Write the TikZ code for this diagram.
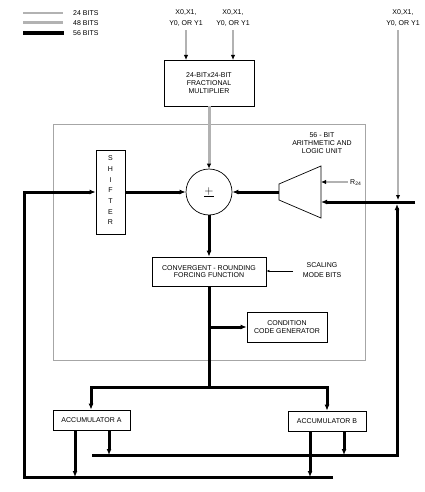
\documentclass[tikz,border=0pt]{standalone}
\usepackage{fontspec}
\setmainfont{Liberation Sans}
\usetikzlibrary{arrows.meta,positioning}
\begin{document}
\begin{tikzpicture}[x=1pt,y=-1pt,
  every node/.style={font=\fontsize{7}{7.6}\selectfont, inner sep=0pt},
  lbl/.style={align=center},
  box/.style={draw, line width=0.7pt, align=center},
  w56/.style={line width=3pt, black},
  w48/.style={line width=3pt, black!30},
  w24/.style={line width=1.3pt, black!30},
  thin/.style={line width=0.7pt, black},
  tip/.style={-{Latex[length=6pt,width=5pt,black]}},
  stip/.style={-{Latex[length=5pt,width=4.5pt,black]}}]
\useasboundingbox (0,0) rectangle (425,492);
% legend
\coordinate (l1a) at (23,13); \coordinate (l1b) at (63,13);
\coordinate (l2a) at (23,23); \coordinate (l2b) at (63,23);
\coordinate (l3a) at (23,33); \coordinate (l3b) at (64,33);
\draw[w24] (l1a) -- (l1b);
\draw[w48] (l2a) -- (l2b);
\draw[w56,line width=3.5pt] (l3a) -- (l3b);
\node[anchor=west] (t24) at (73,13) {24 BITS};
\node[anchor=west] (t48) at (73,23) {48 BITS};
\node[anchor=west] (t56) at (73,33) {56 BITS};
% inputs
\node[lbl] (in1) at (186,18) {X0,X1,\\[3pt]Y0, OR Y1};
\node[lbl] (in2) at (233,18) {X0,X1,\\[3pt]Y0, OR Y1};
\node[lbl] (in3) at (403,18) {X0,X1,\\[3pt]Y0, OR Y1};
% multiplier
\node[box, minimum width=90, minimum height=46] (mult) at (209,83) {24-BITx24-BIT\\FRACTIONAL\\MULTIPLIER};
\draw[w24,stip] (in1.south -| 186,0) ++(0,4) -- (186,60);
\draw[w24,stip] (in2.south -| 233,0) ++(0,4) -- (233,60);
% ALU gray box
\node[draw=black!35, line width=0.8pt, minimum width=312, minimum height=236] (alubox) at (209,242) {};
% shifter
\node[box, minimum width=29, minimum height=84] (shift) at (110.5,192) {};
\foreach \c [count=\i] in {S,H,I,F,T,E,R}
  \node (sh\i) at (110.5,147.5+\i*10.7) {\c};
% sum circle
\node[draw, circle, line width=0.7pt, minimum size=46] (sum) at (209,192) {\fontsize{13}{13}\selectfont$\underline{+}$};
\draw[w48,stip] (mult.south) -- (sum.north);
\draw[w56,tip] (shift.east) -- (sum.west);
% ALU trapezoid
\coordinate (tl1) at (279,184); \coordinate (tl2) at (279,200);
\coordinate (tr1) at (321,166); \coordinate (tr2) at (321,218);
\draw[line width=0.7pt] (tl1) -- (tr1) -- (tr2) -- (tl2) -- cycle;
\coordinate (trapL) at (279,192);
\draw[w56,tip] (trapL) -- (sum.east);
\node[lbl] (alut) at (322,143) {56 - BIT\\ARITHMETIC AND\\LOGIC UNIT};
\node[anchor=west] (r24) at (350,183) {R\textsubscript{24}};
\coordinate (r24in) at (321,182);
\draw[w24,stip] (r24.west) ++(-2,-1) -- (r24in);
% right input
\coordinate (rin) at (415,202);
\coordinate (rinT) at (321,202);
\draw[w56,tip] (rin) -- (rinT);
\draw[w24,stip] (in3.south -| 398,0) ++(0,4) -- (398,200);
% convergent rounding
\node[box, minimum width=114, minimum height=29] (conv) at (209,271.5) {CONVERGENT - ROUNDING\\FORCING FUNCTION};
\draw[w56,tip] (sum.south) -- (conv.north);
\node[lbl] (scal) at (322,270) {SCALING\\[2pt]MODE BITS};
\coordinate (scalE) at (293,271);
\draw[thin,-{Latex[length=3pt,width=2.5pt]}] (scalE) -- (conv.east |- scalE);
% condition code generator
\node[box, minimum width=80, minimum height=30] (ccg) at (287,327) {CONDITION\\CODE GENERATOR};
\coordinate (j1) at (209,327);
\coordinate (j2) at (209,387);
\draw[w56] (conv.south) -- (j2);
\draw[w56,tip] (j1) -- (ccg.west);
% accumulators
\node[box, minimum width=77, minimum height=20] (accA) at (91.5,420) {ACCUMULATOR A};
\node[box, minimum width=78, minimum height=20] (accB) at (327,421) {ACCUMULATOR B};
\coordinate (jA) at (91,387); \coordinate (jB) at (327,387);
\draw[w56,tip] (j2) -- (jA) -- (accA.north -| jA);
\draw[w56,tip] (j2) -- (jB) -- (accB.north -| jB);
% bus at y=455
\coordinate (b1L) at (93,455); \coordinate (b1R) at (397,455);
\coordinate (b1T) at (397,204);
\draw[w56,tip,line cap=rect] (b1L) -- (b1R) -- (b1T);
% bus at y=477
\coordinate (b2R) at (333,477); \coordinate (b2L) at (24,477);
\coordinate (b2T) at (24,192);
\draw[w56,tip] (b2R) -- (b2L) -- (b2T) -- (shift.west);
% accumulator outputs
\draw[w56,tip] (accA.south -| 75,0) -- (75,477);
\draw[w56,tip] (accA.south -| 109,0) -- (109,455);
\draw[w56,tip] (accB.south -| 310,0) -- (310,477);
\draw[w56,tip] (accB.south -| 344,0) -- (344,455);
\end{tikzpicture}
\end{document}
